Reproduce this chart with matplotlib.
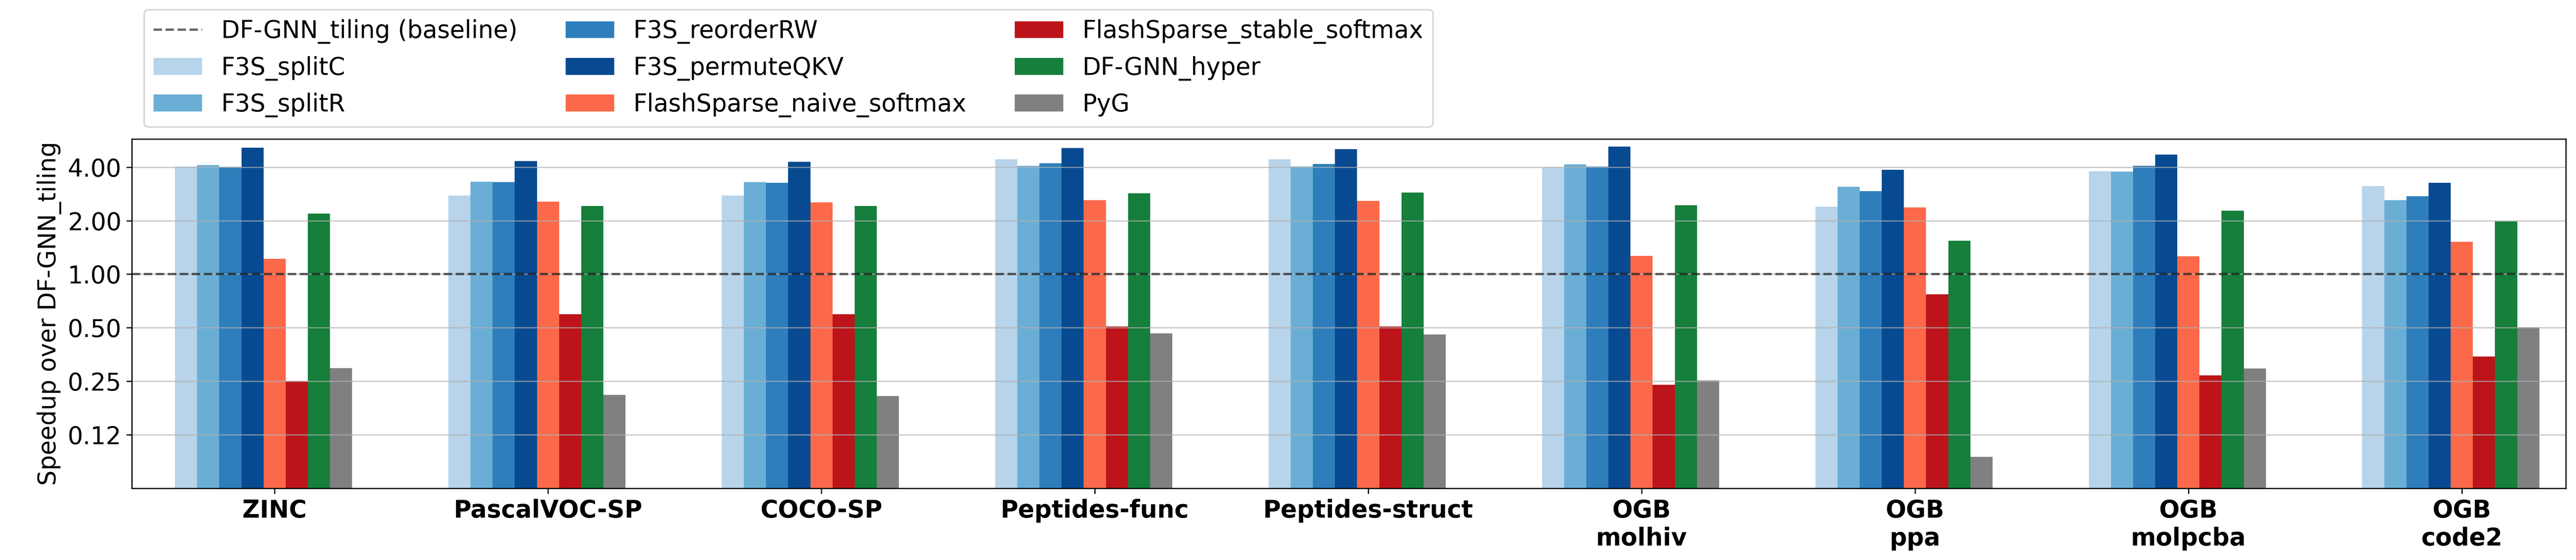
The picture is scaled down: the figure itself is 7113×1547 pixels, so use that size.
import numpy as np
import matplotlib
matplotlib.use("Agg")
from matplotlib import pyplot as plt
from matplotlib.ticker import FixedLocator, FormatStrFormatter, NullLocator

datasets = ["ZINC", "PascalVOC-SP", "COCO-SP", "Peptides-func", "Peptides-struct",
            "OGB\nmolhiv", "OGB\nppa", "OGB\nmolpcba", "OGB\ncode2"]

methods = ["F3S_splitC", "F3S_splitR", "F3S_reorderRW", "F3S_permuteQKV",
           "FlashSparse_naive_softmax", "FlashSparse_stable_softmax",
           "DF-GNN_hyper", "PyG"]

# speedup over DF-GNN_tiling, one list per method (same order as datasets)
splitC = [4.04, 2.77, 2.77, 4.42, 4.42, 3.99, 2.40, 3.79, 3.13]
splitR = [4.10, 3.32, 3.30, 4.07, 4.04, 4.15, 3.10, 3.78, 2.61]
reorderRW = [4.01, 3.30, 3.26, 4.21, 4.17, 4.03, 2.93, 4.07, 2.74]
permuteQKV = [5.14, 4.33, 4.28, 5.12, 5.06, 5.23, 3.86, 4.70, 3.26]
naiveSoftmax = [1.22, 2.56, 2.53, 2.61, 2.58, 1.27, 2.38, 1.26, 1.52]
stableSoftmax = [0.250, 0.596, 0.596, 0.507, 0.507, 0.239, 0.770, 0.270, 0.344]
dfgnnHyper = [2.19, 2.42, 2.42, 2.85, 2.88, 2.44, 1.54, 2.28, 1.99]
pyg = [0.296, 0.209, 0.207, 0.464, 0.459, 0.253, 0.094, 0.295, 0.504]

yticks = [0.125, 0.25, 0.5, 1, 2, 4]

colors = [plt.cm.Blues(0.3), plt.cm.Blues(0.5), plt.cm.Blues(0.7), plt.cm.Blues(0.9),
          plt.cm.Reds(0.5), plt.cm.Reds(0.8), plt.cm.Greens(0.8), "#808080"]


def main():
    plt.rcParams["font.size"] = 16
    series = [splitC, splitR, reorderRW, permuteQKV,
              naiveSoftmax, stableSoftmax, dfgnnHyper, pyg]

    fig = plt.figure(figsize=(7113 / 300, 1547 / 300), dpi=300)
    ax = fig.add_axes([0.0512, 0.128, 0.9449, 0.6238])

    x = np.arange(len(datasets))
    width = 0.081
    ax.axhline(1.0, color="black", alpha=0.6, linestyle="--", linewidth=1.5,
               zorder=3, label="DF-GNN_tiling (baseline)")
    for i, (name, values) in enumerate(zip(methods, series)):
        ax.bar(x + (i - 4) * width, values, width, color=colors[i], label=name)

    ax.set_yscale("log", base=2)
    ax.set_ylim(0.0625, 5.76)
    ax.yaxis.set_major_locator(FixedLocator(yticks))
    ax.yaxis.set_major_formatter(FormatStrFormatter("%.2f"))
    ax.yaxis.set_minor_locator(NullLocator())
    ax.grid(axis="y", alpha=0.7)

    ax.set_xlim(-0.522, 8.381)
    ax.set_xticks(x)
    ax.set_xticklabels(datasets, fontweight="bold")
    ax.set_ylabel("Speedup over DF-GNN_tiling")

    ax.legend(loc="lower left", bbox_to_anchor=(0, 1), ncol=3)

    fig.savefig("out.png", dpi=300)


if __name__ == "__main__":
    main()
